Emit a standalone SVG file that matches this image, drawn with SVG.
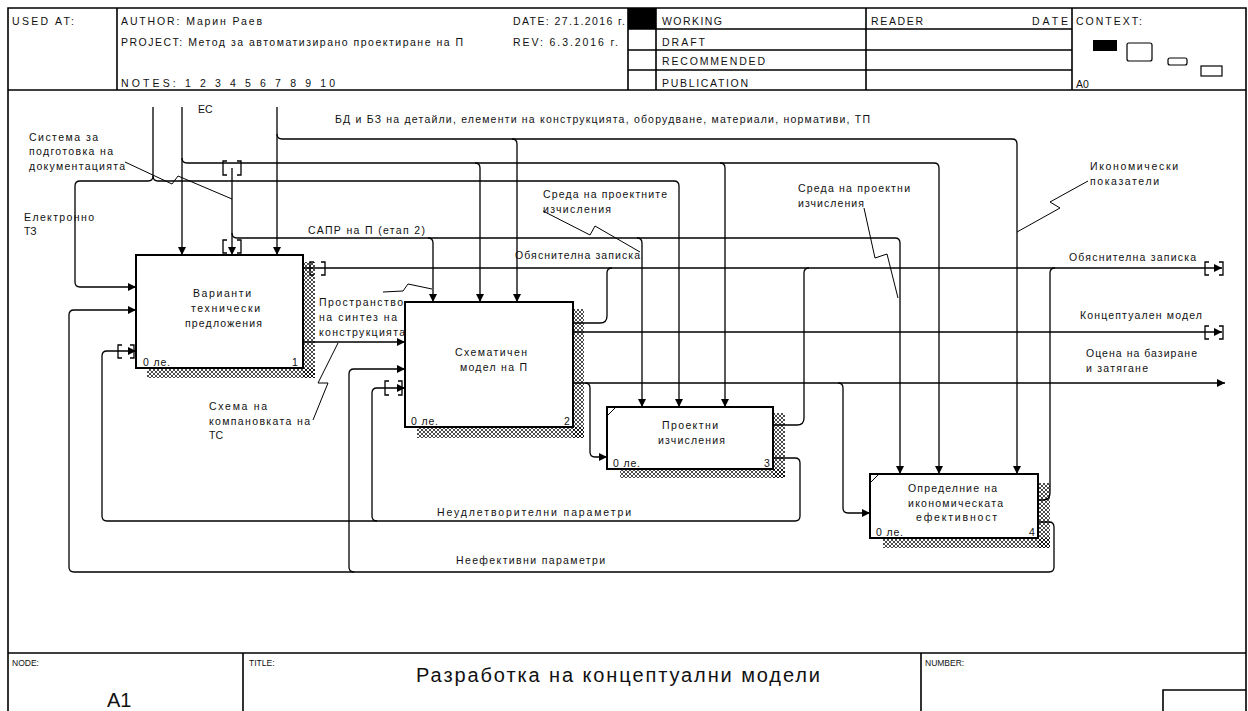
<svg xmlns="http://www.w3.org/2000/svg" width="1248" height="711" viewBox="0 0 1248 711">
<defs>
<style>
.f{fill:none;stroke:#000;stroke-width:1.6}
.c{fill:none;stroke:#000;stroke-width:1.3}
.ld{fill:none;stroke:#000;stroke-width:1}
.box{fill:#fff;stroke:#000;stroke-width:2}
.sh{fill:url(#hatch)}
text{font-family:"Liberation Sans",Arial,sans-serif;fill:#111}
.h{font-size:10.5px}
.t{font-size:10.5px}
</style>
<marker id="ar" markerWidth="9" markerHeight="9" refX="8" refY="4.5" orient="auto" markerUnits="userSpaceOnUse"><path d="M0,0.5 L8,4.5 L0,8.5z" fill="#000"/></marker>
<pattern id="hatch" width="4" height="4" patternUnits="userSpaceOnUse"><path d="M0,0 L4,4 M4,0 L0,4" stroke="#000" stroke-width="0.7"/></pattern>
</defs>
<rect width="1248" height="711" fill="#fff"/>
<g id="frame">
<path class="f" d="M8,711 V8 H1246 V711 M8,90 H1246 M117,8 V90 M628,8 V90 M656,8 V90 M866,8 V90 M1072,8 V90 M628,29 H1072 M628,50 H1072 M628,70 H1072"/>
<rect x="628" y="8" width="28" height="21" fill="#000"/>
<path class="f" d="M8,653 H1246 M243,653 V711 M921,653 V711 M1163,711 V690 H1246"/>
<rect x="1093" y="40" width="24" height="11" fill="#000"/>
<rect x="1127" y="43" width="25" height="18" rx="2" fill="none" stroke="#000" stroke-width="1.2"/>
<rect x="1168" y="58" width="19" height="7" rx="2" fill="none" stroke="#000" stroke-width="1.2"/>
<rect x="1201" y="66" width="21" height="10" fill="none" stroke="#000" stroke-width="1.2"/>
<text class="h" x="12" y="25" textLength="62">USED AT:</text>
<text class="h" x="121" y="25" textLength="141">AUTHOR:  Марин Раев</text>
<text class="h" x="121" y="46" textLength="342">PROJECT:  Метод за автоматизирано проектиране на П</text>
<text class="h" x="121" y="87" textLength="214">NOTES:  1 2 3 4 5 6 7 8 9 10</text>
<text class="h" x="513" y="25" textLength="112">DATE: 27.1.2016 г.</text>
<text class="h" x="513" y="46" textLength="105">REV:   6.3.2016 г.</text>
<text class="h" x="662" y="25" textLength="60">WORKING</text>
<text class="h" x="662" y="46" textLength="43">DRAFT</text>
<text class="h" x="662" y="65" textLength="103">RECOMMENDED</text>
<text class="h" x="662" y="87" textLength="86">PUBLICATION</text>
<text class="h" x="871" y="25" textLength="52">READER</text>
<text class="h" x="1032" y="25" textLength="36">DATE</text>
<text class="h" x="1076" y="25" textLength="66">CONTEXT:</text>
<text class="h" x="1076" y="88">A0</text>
<text x="12" y="666" style="font-size:8.5px">NODE:</text>
<text x="249" y="666" style="font-size:8.5px">TITLE:</text>
<text x="925" y="666" style="font-size:8.5px">NUMBER:</text>
<text x="107" y="707" style="font-size:20px">A1</text>
<text x="416" y="682" style="font-size:20px" textLength="404">Разработка на  концептуални модели</text>
</g>
<g id="connectors">
<g class="c" marker-end="url(#ar)">
<path d="M153,107 V176 Q153,181 148,181 H80 Q75,181 75,186 V282 Q75,287 80,287 H136"/>
<path d="M153,176 Q153,181 158,181 H674 Q679,181 679,186 V407"/>
<path d="M182,107 V255"/>
<path d="M182,158 Q182,163 187,163 H934 Q939,163 939,168 V474"/>
<path d="M475,163 Q480,163 480,168 V302"/>
<path d="M720,163 Q725,163 725,168 V407"/>
<path d="M277,107 V255"/>
<path d="M277,134 Q277,139 282,139 H1012 Q1017,139 1017,144 V474"/>
<path d="M512,139 Q517,139 517,144 V302"/>
<path d="M232,168 V255"/>
<path d="M232,233 Q232,238 237,238 H895 Q900,238 900,243 V474"/>
<path d="M428,238 Q433,238 433,243 V302"/>
<path d="M637,238 Q642,238 642,243 V407"/>
<path d="M303,268 H1222"/>
<path d="M303,342 H405"/>
<path d="M573,332 H1222"/>
<path d="M573,383 H1225"/>
<path d="M585,383 Q590,383 590,388 V452 Q590,457 595,457 H607"/>
<path d="M838,383 Q843,383 843,388 V508 Q843,513 848,513 H870"/>
<path d="M773,458 H795 Q800,458 800,463 V516 Q800,521 795,521 H107 Q102,521 102,516 V356 Q102,351 107,351 H136"/>
<path d="M377,521 Q372,521 372,516 V393 Q372,388 377,388 H405"/>
<path d="M1038,522 H1049 Q1054,522 1054,527 V567 Q1054,572 1049,572 H74 Q69,572 69,567 V315 Q69,310 74,310 H136"/>
<path d="M354,572 Q349,572 349,567 V374 Q349,369 354,369 H405"/>
</g>
<g class="c">
<path d="M573,323 H600 Q607,323 607,316 V273 Q607,268 612,268"/>
<path d="M773,425 H797 Q804,425 804,418 V273 Q804,268 809,268"/>
<path d="M1038,500 H1043 Q1050,500 1050,493 V273 Q1050,268 1055,268"/>
</g>
<g class="c">
<path d="M227,161 H223 V175 H227 M237,161 H241 V175 H237"/>
<path d="M227,240 H223 V253 H227 M237,240 H241 V253 H237"/>
<path d="M314,262 H310 V275 H314 M321,262 H325 V275 H321"/>
<path d="M1209,262 H1205 V275 H1209 M1219,262 H1223 V275 H1219"/>
<path d="M1209,326 H1205 V339 H1209 M1219,326 H1223 V339 H1219"/>
<path d="M122,345 H118 V358 H122 M130,345 H134 V358 H130"/>
<path d="M389,381 H385 V395 H389 M398,381 H402 V395 H398"/>
</g>
<g class="ld">
<path d="M125,162 L172,184 L178,176 L232,199"/>
<path d="M543,211 L590,235 L595,226 L640,252"/>
<path d="M864,208 L875,258 L887,254 L898,298"/>
<path d="M1088,181 L1050,202 L1060,208 L1017,232"/>
<path d="M338,343 L318,383 L328,383 L313,420"/>
<path d="M383,292 L403,291 L408,284 L432,289"/>
</g>
</g>
<g id="node1">
<rect class="sh" x="303" y="262" width="12" height="116"/>
<rect class="sh" x="147" y="368" width="168" height="10"/>
<rect class="box" x="136" y="255" width="167" height="113"/>
<text class="t" x="193" y="297" textLength="58">Варианти</text>
<text class="t" x="191" y="312" textLength="69">технически</text>
<text class="t" x="185" y="327" textLength="77">предложения</text>
<text class="t" x="143" y="366" textLength="27">0 ле.</text>
<text class="t" x="292" y="366">1</text>
</g>
<g id="node2">
<rect class="sh" x="573" y="309" width="11" height="129"/>
<rect class="sh" x="417" y="427" width="167" height="11"/>
<rect class="box" x="405" y="302" width="168" height="125"/>
<text class="t" x="455" y="356" textLength="72">Схематичен</text>
<text class="t" x="460" y="371" textLength="67">модел на П</text>
<text class="t" x="411" y="425" textLength="27">0 ле.</text>
<text class="t" x="564" y="425">2</text>
</g>
<g id="node3">
<rect class="sh" x="773" y="413" width="12" height="65"/>
<rect class="sh" x="620" y="469" width="165" height="9"/>
<rect class="box" x="607" y="407" width="166" height="62"/>
<path class="ld" d="M607,416 L616,407"/>
<text class="t" x="662" y="429" textLength="56">Проектни</text>
<text class="t" x="658" y="444" textLength="67">изчисления</text>
<text class="t" x="613" y="467" textLength="27">0 ле.</text>
<text class="t" x="764" y="467">3</text>
</g>
<g id="node4">
<rect class="sh" x="1038" y="483" width="12" height="65"/>
<rect class="sh" x="883" y="538" width="167" height="10"/>
<rect class="box" x="870" y="474" width="168" height="64"/>
<path class="ld" d="M870,483 L879,474"/>
<text class="t" x="908" y="492" textLength="89">Определние на</text>
<text class="t" x="908" y="507" textLength="95">икономическата</text>
<text class="t" x="916" y="521" textLength="81">ефективност</text>
<text class="t" x="876" y="536" textLength="27">0 ле.</text>
<text class="t" x="1029" y="536">4</text>
</g>
<g id="labels">
<text class="t" x="198" y="113">ЕС</text>
<text class="t" x="335" y="123" textLength="535">БД и БЗ на детайли, елементи на конструкцията, оборудване, материали, нормативи, ТП</text>
<text class="t" x="29" y="141" textLength="69">Система за</text>
<text class="t" x="29" y="155" textLength="84">подготовка на</text>
<text class="t" x="29" y="170" textLength="96">документацията</text>
<text class="t" x="24" y="221" textLength="70">Електронно</text>
<text class="t" x="24" y="235">ТЗ</text>
<text class="t" x="308" y="234" textLength="117">САПР на П (етап 2)</text>
<text class="t" x="543" y="198" textLength="124">Среда на проектните</text>
<text class="t" x="543" y="213" textLength="68">изчисления</text>
<text class="t" x="515" y="259" textLength="125">Обяснителна записка</text>
<text class="t" x="798" y="192" textLength="112">Среда на проектни</text>
<text class="t" x="798" y="207" textLength="66">изчисления</text>
<text class="t" x="1090" y="170" textLength="88">Икономически</text>
<text class="t" x="1090" y="185" textLength="69">показатели</text>
<text class="t" x="1069" y="261" textLength="127">Обяснителна записка</text>
<text class="t" x="1080" y="319" textLength="122">Концептуален модел</text>
<text class="t" x="1086" y="357" textLength="111">Оцена на базиране</text>
<text class="t" x="1086" y="372" textLength="62">и затягане</text>
<text class="t" x="319" y="306" textLength="84">Пространство</text>
<text class="t" x="319" y="321" textLength="78">на синтез на</text>
<text class="t" x="319" y="336" textLength="86">конструкцията</text>
<text class="t" x="209" y="410" textLength="58">Схема на</text>
<text class="t" x="209" y="425" textLength="101">компановката на</text>
<text class="t" x="209" y="439">ТС</text>
<text class="t" x="437" y="516" textLength="194">Неудлетворителни параметри</text>
<text class="t" x="456" y="564" textLength="149">Неефективни параметри</text>
</g>
</svg>
